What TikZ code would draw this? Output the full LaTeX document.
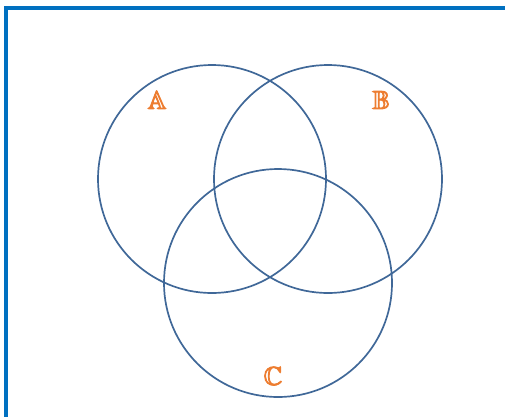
\documentclass[tikz,border=0pt]{standalone}
\usepackage{amssymb}
\definecolor{framblue}{RGB}{0,112,192}
\definecolor{circblue}{RGB}{64,104,152}
\definecolor{lblorange}{RGB}{237,125,49}
% heavier letters: fill and stroke the glyph outlines
\newcommand{\heavylbl}[1]{\special{pdf:literal 2 Tr 0.9 w}$\mathbb{#1}$\special{pdf:literal 0 Tr}}
\begin{document}
\begin{tikzpicture}[x=1pt, y=-1pt,
        setcirc/.style={circle, draw=circblue, line width=1.7pt, minimum size=228pt, inner sep=0pt},
        setlbl/.style={text=lblorange, font=\fontsize{26}{28}\selectfont, inner sep=0pt},
        frameline/.style={draw=framblue, line width=3.6pt}
      ]
      \useasboundingbox (0,0) rectangle (505,416);
      \coordinate (fbot) at (6,418);
      \coordinate (fcorner) at (6,8);
      \coordinate (fright) at (507,8);
      \draw[frameline] (fbot) -- (fcorner) -- (fright);
      \foreach \name/\x/\y in {A/212/179, B/328/179, C/278/283} {
        \node[setcirc] (set\name) at (\x,\y) {};
      }
      \node[setlbl] (lblA) at (157,100) {\heavylbl{A}};
      \node[setlbl] (lblB) at (381,100) {\heavylbl{B}};
      \node[setlbl] (lblC) at (273,376) {\heavylbl{C}};
    \end{tikzpicture}
\end{document}
